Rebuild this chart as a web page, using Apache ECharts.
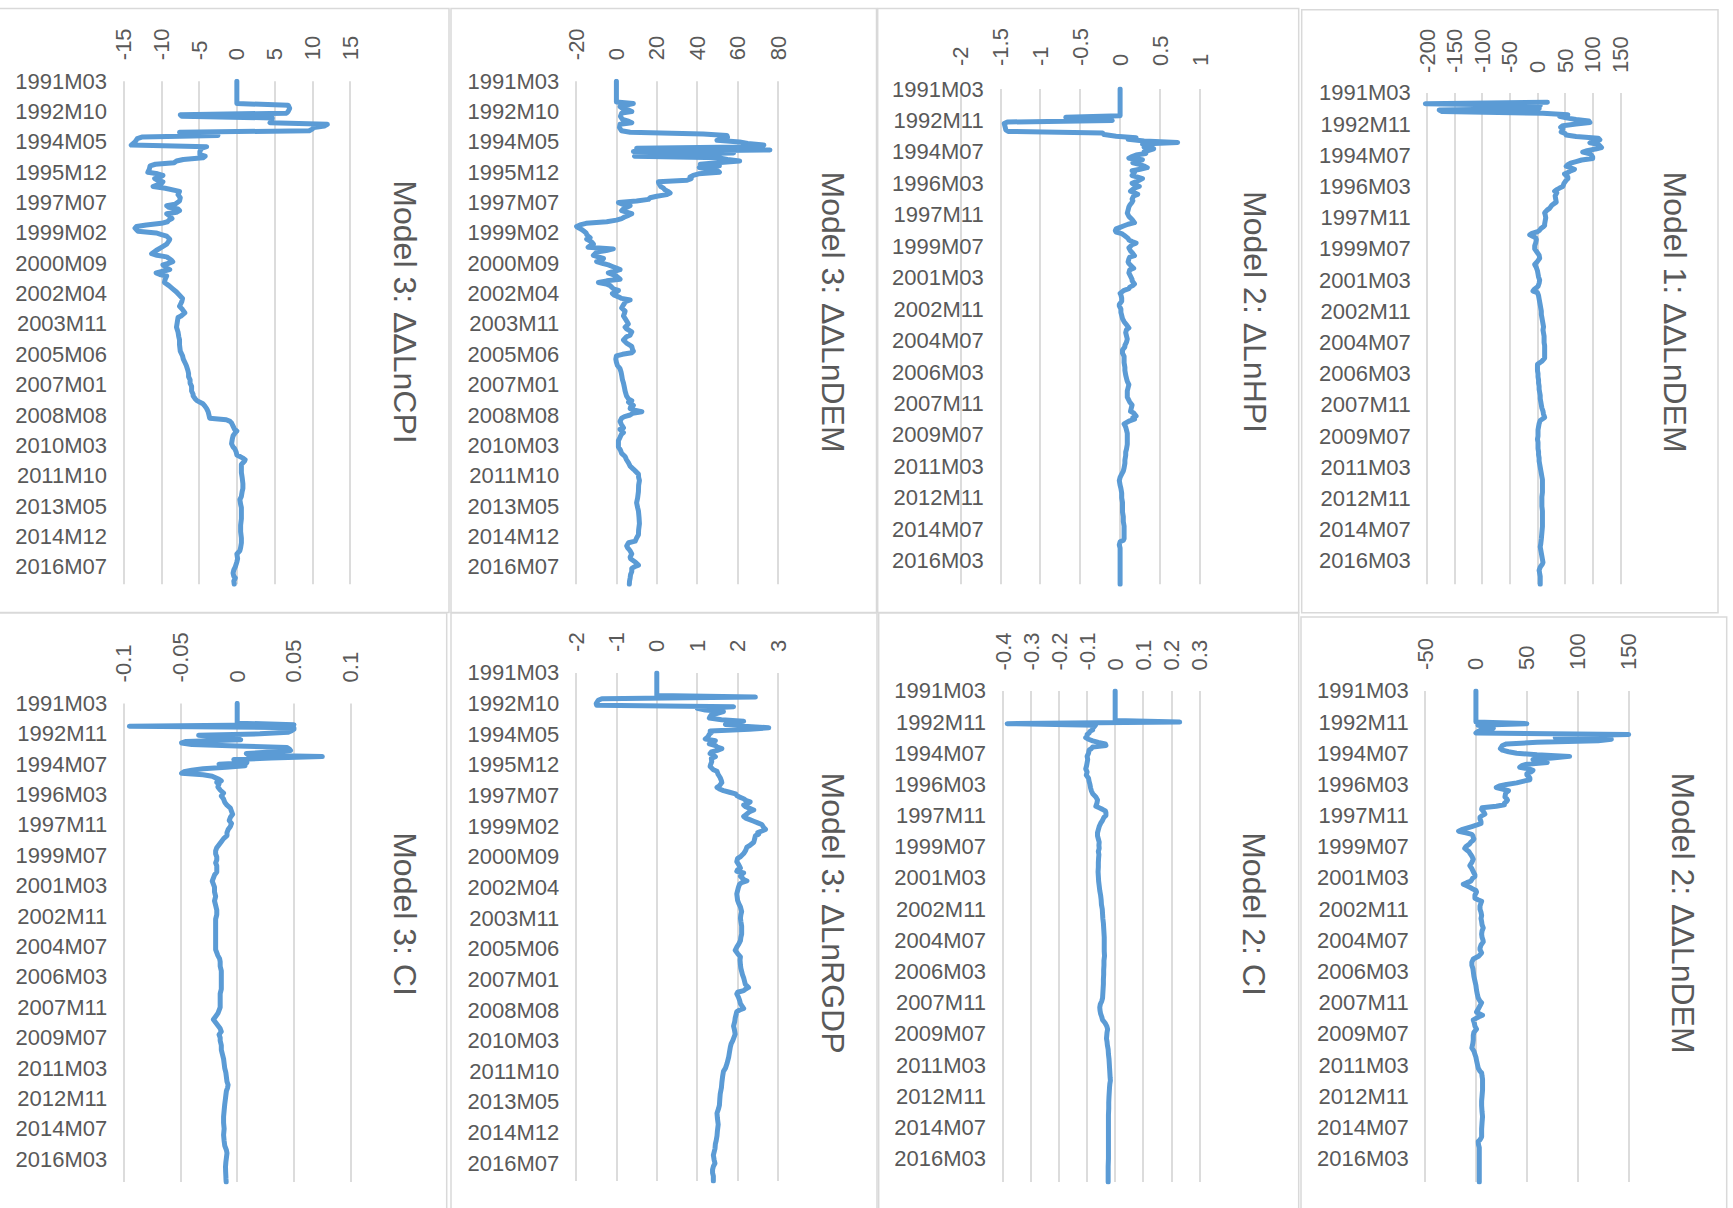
<!DOCTYPE html>
<html>
<head>
<meta charset="utf-8">
<script src="https://cdn.jsdelivr.net/npm/echarts@6/dist/echarts.min.js"></script>
<style>
html,body{margin:0;padding:0;background:#fff;overflow:hidden;}
#chart{width:1733px;height:1208px;}
</style>
</head>
<body>
<div id="chart"></div>
<script>
// ---------- categories (monthly, 1991M03 ... 2017M06) ----------
const startYear = 1991, startMonth = 3, monthCount = 316;
const months = [];
for (let k = 0; k < monthCount; k++) {
  const t = startMonth - 1 + k;
  const y = startYear + Math.floor(t / 12), m = (t % 12) + 1;
  months.push(y + 'M' + (m < 10 ? '0' + m : m));
}

// ---------- panel titles ----------
const titles = [
  'Model 3: ΔΔLnCPI', 'Model 3: ΔΔLnDEM', 'Model 2: ΔLnHPI', 'Model 1: ΔΔLnDEM',
  'Model 3: CI', 'Model 3: ΔLnRGDP', 'Model 2: CI', 'Model 2: ΔΔLnDEM'
];

// ---------- value-axis ticks [min, max, step] ----------
const valueTicks = [
  [-15, 15, 5], [-20, 80, 20], [-2, 1, 0.5], [-200, 150, 50],
  [-0.1, 0.1, 0.05], [-2, 3, 1], [-0.4, 0.3, 0.1], [-50, 150, 50]
];
// category label step (every n-th month)
const labelEvery = [19, 19, 20, 20, 20, 19, 20, 20];

// ---------- series values: [month index, value] ----------
const m3_ddLnCPI = [[0,0],[14,0],[15,6.8],[17,7.0],[19,6.8],[20,6.6],[21,-7.5],[22,-7.3],[23,4.7],[25,4.6],[26,4.4],[27,12.0],[28,11.6],[29,10.2],[30,10.0],[31,9.6],[32,-7.6],[33,-7.2],[34,-2.5],[35,-12.6],[36,-13.2],[38,-13.5],[40,-14.0],[41,-4.0],[42,-4.7],[44,-4.9],[46,-4.9],[47,-4.2],[48,-4.5],[49,-7.1],[50,-8.0],[51,-8.3],[52,-10.8],[53,-11.5],[55,-11.6],[57,-11.8],[58,-10.5],[59,-9.8],[60,-10.2],[61,-10.9],[62,-10.5],[63,-9.8],[64,-10.0],[65,-10.6],[66,-11.1],[67,-9.5],[69,-7.6],[71,-7.8],[73,-7.5],[75,-7.6],[77,-8.2],[78,-9.3],[79,-9.0],[80,-7.8],[81,-7.6],[82,-8.0],[83,-9.3],[84,-9.0],[86,-8.6],[87,-9.0],[88,-9.2],[89,-10.0],[90,-12.0],[91,-13.3],[92,-13.5],[93,-13.3],[94,-13.1],[95,-10.7],[96,-10.0],[97,-9.3],[99,-8.9],[100,-9.0],[102,-9.3],[104,-10.0],[106,-10.7],[108,-11.3],[109,-10.6],[110,-9.3],[112,-8.7],[113,-8.5],[114,-9.0],[115,-9.8],[117,-9.3],[118,-8.9],[119,-9.8],[120,-10.7],[121,-10.2],[122,-9.3],[124,-9.5],[126,-9.6],[128,-9.0],[130,-8.5],[132,-8.0],[134,-7.6],[136,-7.2],[138,-7.3],[140,-7.5],[141,-7.6],[143,-7.2],[145,-6.9],[147,-7.4],[148,-7.8],[151,-7.9],[154,-8.0],[157,-7.8],[160,-7.7],[162,-7.6],[165,-7.6],[169,-7.5],[172,-7.2],[174,-7.1],[176,-6.9],[178,-6.7],[181,-6.5],[183,-6.4],[185,-6.4],[187,-6.2],[189,-6.2],[191,-6.0],[194,-6.0],[196,-5.8],[197,-5.8],[199,-5.5],[200,-5.3],[202,-4.5],[203,-4.3],[205,-4.0],[207,-3.8],[209,-3.7],[211,-3.6],[212,-1.4],[213,-0.9],[214,-0.7],[216,-0.5],[218,-0.3],[219,0.0],[220,-0.2],[222,-0.5],[224,-0.6],[227,-0.7],[229,-0.5],[230,-0.3],[232,-0.1],[234,0.0],[235,0.4],[236,0.8],[237,1.1],[238,1.0],[240,0.6],[243,0.6],[245,0.6],[248,0.7],[252,0.8],[255,0.8],[257,0.7],[260,0.6],[262,0.4],[265,0.5],[267,0.6],[271,0.6],[274,0.6],[278,0.5],[282,0.5],[286,0.6],[289,0.6],[292,0.5],[294,0.4],[296,0.0],[299,0.1],[301,0.0],[304,-0.2],[306,-0.4],[308,-0.5],[310,-0.4],[311,-0.2],[313,-0.4],[315,-0.35]];

const m3_ddLnDEM = [[0,0],[13,0],[14,8.4],[15,5],[16,1.8],[17,3],[18,6],[19,7.6],[20,2.6],[22,2],[24,3],[25,6],[26,7.6],[27,1.8],[29,1.5],[31,2.5],[32,6.8],[33,43],[34,54.7],[35,55],[36,52],[37,49.8],[38,61],[39,65],[40,73],[41,72],[42,10],[43,76],[44,8.4],[45,58],[46,10],[47,9],[48,51],[49,55],[50,61],[51,50],[52,41.5],[53,51],[54,41],[55,45],[56,50],[57,51],[58,40.7],[59,38],[60,36.5],[61,37],[62,35],[63,20.8],[64,21],[65,21.5],[66,22],[67,23.3],[68,24],[69,25.5],[70,26.6],[71,25],[72,20],[73,16.7],[74,15.9],[75,10],[76,1],[77,3],[78,6.8],[79,5],[80,3.5],[81,2.6],[82,5],[83,7.6],[84,6],[85,4],[86,2.6],[87,0],[88,-4.8],[89,-15],[90,-18],[91,-19.7],[92,-18.5],[93,-17],[94,-16],[95,-15],[96,-14.7],[97,-14],[98,-13],[99,-14.7],[100,-13],[101,-12],[102,-11.4],[103,-13],[104,-14],[105,-1.5],[106,-5],[107,-9.8],[108,-10.5],[109,-11.4],[110,-9],[111,-6.4],[112,-7],[113,-9.8],[114,-7],[115,-4],[116,-2],[117,0],[118,1.8],[119,-1],[120,-4],[121,-2],[122,0],[124,1.8],[125,-4.8],[126,-8.9],[127,-5],[128,-3.1],[130,-1.5],[131,1],[132,0],[133,-2],[134,-1],[135,1],[136,2.6],[137,6.8],[138,4.5],[140,3.5],[142,2.6],[144,4.3],[146,3.8],[147,3.5],[149,4.5],[150,5],[152,5.9],[154,4.3],[155,5],[157,7.6],[159,6.8],[160,5],[162,3.5],[164,5],[166,7.6],[168,8],[169,8.4],[170,7.6],[171,3],[172,0],[174,-0.3],[176,0],[178,0.5],[180,1.8],[182,2.3],[184,2.6],[187,3],[189,3.5],[192,4],[194,4.3],[197,5],[199,6],[200,7.6],[201,6],[203,8.4],[204,7],[205,6.8],[206,9],[207,12.6],[208,8],[209,6.8],[210,4],[211,2.6],[213,1.8],[215,2.5],[217,3.5],[218,1.8],[220,3.5],[221,2.5],[223,1.8],[225,1],[227,1],[229,1],[231,2],[233,2.6],[235,4.3],[237,5],[239,6],[241,6.8],[243,8.5],[244,9.3],[246,10.9],[248,11],[250,11.4],[253,11],[257,10.9],[261,10.5],[264,10],[267,10.5],[269,10.9],[273,11.2],[277,11.4],[281,11],[284,10.9],[286,10],[288,9.3],[289,6],[291,5.1],[292,5.5],[294,6.8],[296,7.6],[298,6.8],[299,7],[301,9.3],[303,10.9],[304,9],[305,7.6],[307,7.6],[309,7],[311,6.8],[313,6.5],[315,6.4]];

const m2_dLnHPI = [[0,0],[17,0],[18,-0.68],[19,-0.12],[20,-0.1],[21,-1.41],[22,-1.45],[24,-1.44],[26,-1.43],[27,-1.4],[28,-0.22],[29,-0.2],[30,-0.05],[31,0.2],[32,0.1],[33,0.3],[34,0.72],[35,0.28],[36,0.4],[37,0.3],[38,0.42],[39,0.36],[40,0.3],[41,0.32],[42,0.2],[43,0.15],[44,0.11],[45,0.28],[46,0.22],[47,0.16],[48,0.25],[49,0.3],[50,0.34],[51,0.25],[52,0.15],[53,0.18],[55,0.15],[56,0.22],[57,0.28],[58,0.24],[60,0.15],[61,0.2],[62,0.24],[63,0.18],[65,0.13],[66,0.18],[67,0.22],[68,0.17],[70,0.15],[71,0.16],[72,0.15],[74,0.12],[75,0.11],[77,0.1],[79,0.09],[81,0.11],[83,0.15],[85,0.18],[86,0.1],[87,0.05],[88,0.0],[89,-0.05],[90,-0.06],[91,-0.05],[92,0.02],[93,0.05],[95,0.1],[96,0.11],[97,0.15],[98,0.2],[99,0.15],[101,0.11],[102,0.12],[103,0.13],[104,0.15],[106,0.18],[107,0.12],[108,0.11],[110,0.1],[111,0.11],[113,0.15],[114,0.17],[115,0.12],[117,0.11],[119,0.13],[121,0.15],[122,0.15],[124,0.18],[125,0.16],[126,0.12],[127,0.11],[128,0.05],[130,0.0],[131,0.01],[133,0.02],[135,0.02],[137,-0.01],[138,-0.01],[140,0.01],[142,0.01],[144,0.02],[146,0.03],[148,0.05],[150,0.08],[152,0.11],[153,0.08],[155,0.07],[157,0.08],[159,0.09],[161,0.08],[163,0.06],[164,0.06],[166,0.03],[168,0.03],[170,0.05],[172,0.05],[174,0.05],[177,0.06],[179,0.06],[182,0.07],[184,0.08],[186,0.09],[188,0.11],[190,0.1],[192,0.09],[194,0.09],[196,0.09],[199,0.12],[201,0.15],[203,0.14],[205,0.13],[206,0.17],[208,0.2],[209,0.16],[210,0.18],[211,0.12],[213,0.05],[215,0.07],[217,0.08],[219,0.09],[221,0.09],[224,0.09],[226,0.09],[229,0.08],[231,0.07],[233,0.07],[236,0.06],[238,0.06],[241,0.05],[243,0.04],[245,0.02],[247,0.0],[249,-0.01],[252,0.0],[254,0.01],[257,0.02],[260,0.02],[263,0.03],[266,0.03],[269,0.03],[272,0.04],[275,0.04],[278,0.05],[281,0.05],[284,0.05],[286,0.05],[287,0.04],[288,0.0],[290,-0.01],[292,0.0],[300,0.0],[308,0.0],[315,0.0]];

const m1_ddLnDEM = [[6,18],[7,-203],[8,5],[9,2],[10,3],[11,-178],[12,-172],[13,10],[14,55],[15,40],[16,52],[17,70],[18,93],[19,95],[20,70],[21,46],[22,42],[23,46],[24,45],[25,43],[26,50],[27,52],[28,70],[29,110],[30,113],[31,100],[32,95],[33,110],[34,113],[35,116],[36,105],[37,90],[38,82],[39,95],[40,98],[41,100],[42,100],[43,80],[44,70],[45,60],[46,55],[47,52],[48,60],[49,67],[50,60],[51,55],[52,49],[53,52],[54,55],[55,55],[56,52],[58,48],[60,46],[61,40],[62,35],[63,31],[64,35],[66,32],[68,33],[70,34],[71,30],[72,26],[74,22],[75,18],[76,15],[77,13],[78,14],[80,15],[82,14],[84,13],[85,13],[86,10],[87,6],[88,4],[89,0],[90,-10],[91,-14],[92,-8],[93,-3],[94,-2],[96,-3],[98,-5],[100,-5],[102,-1],[104,3],[106,4],[108,0],[110,-5],[112,-2],[114,0],[116,1],[118,2],[120,4],[122,3],[124,1],[126,-6],[127,-8],[128,0],[130,2],[132,3],[134,4],[136,5],[138,6],[140,7],[142,7],[144,8],[146,9],[148,10],[150,11],[152,10],[154,11],[156,12],[158,12],[160,12],[162,13],[164,13],[166,13],[168,13],[170,13],[172,8],[174,0],[176,0],[178,0],[180,1],[182,1],[184,2],[186,2],[188,3],[190,3],[192,4],[194,5],[196,5],[198,6],[200,7],[202,8],[204,10],[206,11],[208,13],[209,9],[210,5],[212,3],[214,2],[216,1],[218,1],[220,1],[222,0],[224,1],[226,1],[228,1],[230,2],[232,2],[234,3],[236,3],[238,4],[240,5],[242,6],[244,7],[246,8],[248,9],[250,9],[253,9],[256,9],[259,8],[262,8],[265,8],[268,9],[271,9],[274,9],[278,9],[282,8],[286,7],[289,6],[291,5],[293,6],[295,7],[297,8],[299,9],[301,10],[302,9],[304,5],[306,3],[308,4],[310,5],[312,5],[315,5]];

const m3_CI = [[0,0],[13,0],[14,0.05],[15,-0.095],[16,0.05],[17,0.05],[18,0.048],[19,0.045],[20,0.02],[21,-0.034],[22,-0.02],[23,0.0],[24,0.003],[25,-0.045],[26,-0.049],[27,-0.04],[28,0.0],[29,0.044],[30,0.046],[31,0.047],[32,0.03],[33,0.008],[34,0.01],[35,0.075],[36,0.03],[37,-0.003],[38,0.005],[39,0.0085],[40,-0.016],[41,0.007],[42,-0.01],[43,-0.03],[44,-0.04],[45,-0.047],[46,-0.049],[47,-0.03],[48,-0.022],[49,-0.019],[50,-0.016],[51,-0.014],[52,-0.018],[53,-0.016],[55,-0.017],[57,-0.015],[59,-0.012],[61,-0.014],[63,-0.012],[65,-0.011],[67,-0.009],[69,-0.006],[71,-0.005],[73,-0.004],[75,-0.006],[77,-0.007],[79,-0.005],[81,-0.006],[83,-0.008],[85,-0.009],[87,-0.009],[89,-0.012],[91,-0.014],[93,-0.016],[95,-0.018],[97,-0.019],[99,-0.019],[101,-0.018],[103,-0.018],[105,-0.019],[107,-0.018],[109,-0.018],[111,-0.018],[113,-0.02],[115,-0.021],[117,-0.022],[119,-0.021],[121,-0.02],[124,-0.02],[127,-0.019],[130,-0.02],[133,-0.019],[136,-0.018],[139,-0.018],[142,-0.019],[145,-0.019],[148,-0.019],[152,-0.019],[156,-0.019],[159,-0.019],[162,-0.019],[164,-0.018],[166,-0.017],[168,-0.0155],[170,-0.015],[173,-0.015],[176,-0.014],[179,-0.014],[182,-0.014],[185,-0.014],[188,-0.014],[191,-0.015],[194,-0.015],[197,-0.015],[200,-0.015],[202,-0.016],[204,-0.017],[206,-0.019],[208,-0.021],[210,-0.019],[212,-0.017],[214,-0.015],[216,-0.014],[218,-0.016],[220,-0.015],[222,-0.015],[225,-0.014],[228,-0.014],[231,-0.013],[234,-0.012],[237,-0.0115],[240,-0.011],[243,-0.01],[246,-0.0095],[249,-0.009],[251,-0.008],[253,-0.0085],[255,-0.0095],[258,-0.01],[261,-0.0105],[264,-0.011],[268,-0.0115],[272,-0.012],[276,-0.012],[280,-0.0115],[284,-0.012],[288,-0.0115],[291,-0.011],[294,-0.0095],[296,-0.009],[299,-0.0095],[302,-0.01],[305,-0.0103],[308,-0.0102],[311,-0.01],[313,-0.0099],[315,-0.0097]];

const m3_dLnRGDP = [[0,0],[14,0],[15,2.44],[16,-1.36],[17,-1.45],[19,-1.5],[20,-1.49],[21,1.9],[22,1.0],[23,1.2],[24,1.65],[25,1.5],[26,1.35],[27,1.32],[28,1.3],[29,1.6],[30,2.15],[31,1.8],[32,1.7],[33,2.15],[34,2.77],[35,2.3],[36,1.32],[37,1.35],[38,1.3],[39,1.28],[40,1.25],[41,1.2],[42,1.45],[43,1.35],[44,1.3],[45,1.45],[46,1.5],[47,1.61],[48,1.5],[49,1.35],[50,1.32],[51,1.4],[52,1.45],[53,1.35],[55,1.36],[57,1.33],[58,1.32],[60,1.4],[61,1.49],[63,1.52],[65,1.57],[67,1.6],[68,1.61],[70,1.55],[71,1.49],[72,1.55],[73,1.65],[74,1.8],[75,1.95],[76,1.98],[77,2.05],[78,2.15],[79,2.2],[80,2.31],[81,2.25],[82,2.15],[83,2.2],[84,2.3],[85,2.4],[86,2.3],[88,2.2],[89,2.15],[90,2.2],[91,2.3],[92,2.4],[93,2.5],[94,2.6],[96,2.65],[97,2.69],[98,2.6],[99,2.5],[100,2.52],[101,2.44],[103,2.42],[105,2.4],[107,2.3],[108,2.23],[110,2.2],[112,2.15],[114,2.07],[115,2.0],[117,1.98],[119,2.03],[121,2.07],[122,2.0],[123,1.98],[124,2.15],[125,2.1],[126,2.07],[128,2.15],[129,2.23],[130,2.1],[131,2.05],[133,2.02],[135,2.0],[137,1.98],[139,1.99],[141,2.0],[143,2.03],[145,2.07],[148,2.1],[150,2.08],[152,2.07],[154,2.08],[157,2.1],[159,2.1],[162,2.1],[164,2.08],[166,2.07],[168,2.03],[170,1.98],[172,1.94],[174,2.0],[176,2.07],[178,2.06],[181,2.07],[183,2.08],[185,2.1],[187,2.12],[189,2.15],[191,2.17],[193,2.19],[195,2.27],[196,2.2],[197,2.15],[198,2.0],[199,1.98],[201,2.02],[203,2.05],[205,2.07],[207,2.12],[208,2.15],[209,2.05],[210,1.98],[212,1.96],[214,1.94],[216,1.93],[219,1.9],[221,1.92],[224,1.94],[226,1.91],[228,1.88],[230,1.84],[232,1.82],[235,1.8],[238,1.78],[240,1.76],[242,1.74],[245,1.7],[247,1.65],[250,1.63],[254,1.61],[257,1.6],[261,1.57],[264,1.56],[268,1.55],[270,1.53],[273,1.49],[276,1.5],[280,1.52],[284,1.5],[287,1.49],[290,1.47],[292,1.45],[295,1.44],[299,1.4],[302,1.42],[304,1.44],[306,1.4],[308,1.38],[310,1.38],[312,1.4],[315,1.4]];

const m2_CI = [[0,0],[19,0],[20,0.23],[21,-0.385],[22,-0.07],[23,-0.075],[24,-0.08],[25,-0.08],[26,-0.09],[27,-0.093],[28,-0.1],[29,-0.1],[30,-0.105],[31,-0.095],[32,-0.08],[33,-0.06],[34,-0.035],[35,-0.033],[36,-0.08],[37,-0.085],[38,-0.093],[40,-0.095],[42,-0.1],[44,-0.098],[46,-0.1],[48,-0.102],[50,-0.105],[52,-0.1],[54,-0.103],[56,-0.095],[58,-0.093],[60,-0.09],[62,-0.088],[64,-0.085],[66,-0.08],[68,-0.069],[70,-0.063],[72,-0.065],[74,-0.069],[75,-0.057],[76,-0.045],[77,-0.035],[78,-0.033],[80,-0.033],[81,-0.04],[83,-0.045],[85,-0.052],[87,-0.057],[89,-0.06],[91,-0.063],[93,-0.063],[95,-0.06],[97,-0.057],[99,-0.058],[101,-0.057],[103,-0.06],[105,-0.058],[107,-0.059],[110,-0.06],[113,-0.06],[116,-0.061],[119,-0.06],[122,-0.059],[125,-0.057],[128,-0.055],[131,-0.052],[134,-0.05],[137,-0.049],[140,-0.046],[143,-0.045],[146,-0.044],[149,-0.042],[152,-0.041],[155,-0.04],[158,-0.039],[161,-0.039],[164,-0.039],[167,-0.039],[170,-0.038],[173,-0.04],[176,-0.04],[179,-0.041],[182,-0.041],[185,-0.042],[188,-0.042],[191,-0.043],[194,-0.044],[197,-0.045],[199,-0.048],[201,-0.053],[203,-0.055],[205,-0.054],[207,-0.052],[209,-0.048],[211,-0.045],[213,-0.036],[215,-0.03],[217,-0.027],[219,-0.029],[221,-0.03],[223,-0.031],[225,-0.029],[227,-0.028],[230,-0.025],[233,-0.024],[236,-0.022],[239,-0.021],[242,-0.02],[245,-0.019],[248,-0.018],[250,-0.017],[252,-0.019],[254,-0.02],[257,-0.021],[260,-0.022],[264,-0.023],[268,-0.023],[272,-0.024],[276,-0.024],[280,-0.024],[285,-0.024],[290,-0.024],[295,-0.024],[300,-0.024],[305,-0.025],[310,-0.025],[315,-0.025]];

const m2_ddLnDEM = [[0,0],[20,0],[21,50],[22,2],[23,15],[24,17],[25,5],[26,2],[27,0],[28,150],[29,80],[30,78],[31,133],[32,120],[33,60],[34,30],[35,26],[36,25],[37,24],[38,26],[39,32],[40,40],[41,60],[42,92],[43,75],[44,56],[45,62],[46,70],[47,50],[48,45],[49,43],[50,52],[51,56],[52,54],[53,50],[54,50],[55,52],[56,53],[57,53],[58,46],[59,40],[60,30],[61,23],[62,20],[63,26],[64,32],[65,30],[66,29],[68,28.5],[69,30],[70,31],[71,30],[72,28],[73,28],[74,20],[75,6],[76,5.6],[77,7],[78,8],[79,8.8],[80,6],[81,4],[82,4],[84,5],[85,5],[86,1],[87,-4],[88,-9],[89,-14],[90,-17],[91,-10],[92,-4],[93,-3],[94,-2.6],[95,-2],[96,-3],[97,-5],[98,-6],[99,-8],[100,-10],[101,-11],[102,-9],[103,-7],[104,-6],[106,-4],[108,-2.6],[110,-4],[112,-6],[114,-4],[116,-2.6],[118,-1],[119,-1],[120,-3],[122,-5],[123,-9],[124,-12.4],[125,-9],[126,-6],[127,-3],[128,0],[129,0.6],[131,-1],[133,-1],[134,2],[135,5.6],[136,5],[138,4],[140,4],[142,5],[144,5.6],[146,5],[148,5.6],[150,6],[152,7.2],[154,6],[156,5.6],[158,6],[160,7],[161,7.2],[163,5],[165,4],[166,4],[168,5.6],[170,3],[172,-2.6],[174,-4],[176,-4],[178,-3],[180,-2.6],[183,-2],[186,-1],[189,0],[192,0.6],[195,1.5],[197,2.3],[199,4],[200,5.6],[202,4],[204,2.3],[206,0.6],[207,3],[208,6.5],[209,3],[211,-2.6],[213,-1.6],[215,-1],[217,0.6],[219,-2],[221,-2.6],[224,-2.6],[226,-3],[229,-4],[231,-2],[233,-1],[235,0],[237,0.6],[240,1.6],[242,2.3],[244,4],[245,5.6],[247,6],[249,6.5],[252,6.5],[256,6.5],[260,6],[263,5.6],[266,5.6],[270,6],[273,6.5],[277,6],[281,5.6],[284,5.6],[286,5.6],[288,4],[289,2.3],[291,2.5],[293,3.3],[296,3.3],[300,3.3],[304,3.3],[308,3.3],[312,3.3],[315,3.3]];

const seriesData = [m3_ddLnCPI, m3_ddLnDEM, m2_dLnHPI, m1_ddLnDEM, m3_CI, m3_dLnRGDP, m2_CI, m2_ddLnDEM];

// ---------- layout (page pixels) ----------
const FONT = '"Liberation Sans", Arial, sans-serif';
const TEXT = '#595959', GRID = '#d9d9d9', LINE = '#5b9bd5';
// plot rectangles [left, right, top, bottom], category-label gap, value-label gap, title centre x, y
const plots = [
  [123.7, 350.0, 81.2, 584.3, 16.7, 21, 405.0, 312],
  [576.0, 778.0, 81.2, 584.3, 16.7, 21, 832.7, 312],
  [960.3, 1200.0, 89.0, 584.3, -23.4, 23, 1255.0, 312],
  [1427.0, 1620.3, 92.9, 584.3, 16.3, 20, 1675.0, 312],
  [123.7, 350.7, 703.4, 1182.0, 16.4, 21, 405.0, 914],
  [576.0, 778.0, 672.9, 1181.0, 16.7, 21, 832.7, 913],
  [1003.0, 1199.3, 690.9, 1182.0, 17.0, 20.5, 1254.0, 914],
  [1425.0, 1628.7, 690.9, 1182.0, 16.3, 21, 1682.7, 913]
];
// panel frames [left, right, top, bottom]
const frames = [
  [-5, 449, 8.6, 612.5], [451, 876.5, 8.6, 612.5], [877.7, 1298.7, 8.6, 612.5], [1301.7, 1718, 9.8, 612.7],
  [-5, 446.7, 613, 1230], [451, 877, 613, 1230], [878.7, 1298.7, 613, 1230], [1301, 1726.7, 616.9, 1230]
];

const grids = [], xAxes = [], yAxes = [], series = [], graphics = [];
frames.forEach(f => {
  graphics.push({
    type: 'rect', z: -10, silent: true,
    shape: { x: f[0], y: f[2], width: f[1] - f[0], height: f[3] - f[2] },
    style: { fill: '#ffffff', stroke: GRID, lineWidth: 1.5 }
  });
});
plots.forEach((p, i) => {
  grids.push({ left: p[0], width: p[1] - p[0], top: p[2], height: p[3] - p[2], containLabel: false });
  const vt = valueTicks[i];
  xAxes.push({
    gridIndex: i, type: 'value', position: 'top', min: vt[0], max: vt[1], interval: vt[2],
    axisLine: { show: false, onZero: false }, axisTick: { show: false },
    splitLine: { show: true, lineStyle: { color: GRID, width: 1.8 } },
    axisLabel: { rotate: -90, margin: p[5], fontSize: 22, color: TEXT, fontFamily: FONT }
  });
  yAxes.push({
    gridIndex: i, type: 'category', data: months, inverse: true, boundaryGap: false,
    axisLine: { show: false, onZero: false }, axisTick: { show: false }, splitLine: { show: false },
    axisLabel: { interval: labelEvery[i] - 1, margin: p[4], fontSize: 22, color: TEXT, fontFamily: FONT }
  });
  series.push({
    type: 'line', xAxisIndex: i, yAxisIndex: i, symbol: 'none', showSymbol: false, clip: false,
    data: seriesData[i].map(d => [d[1], d[0]]),
    lineStyle: { color: LINE, width: 5, cap: 'round', join: 'round' }
  });
  graphics.push({
    type: 'text', x: p[6], y: p[7], rotation: -Math.PI / 2, silent: true,
    style: { text: titles[i], fontSize: 32, fontFamily: FONT, fill: TEXT, align: 'center', verticalAlign: 'middle' }
  });
});

const chart = echarts.init(document.getElementById('chart'), null, { renderer: 'svg' });
chart.setOption({
  animation: false,
  backgroundColor: '#ffffff',
  grid: grids, xAxis: xAxes, yAxis: yAxes, series: series,
  graphic: graphics
});
</script>
</body>
</html>
